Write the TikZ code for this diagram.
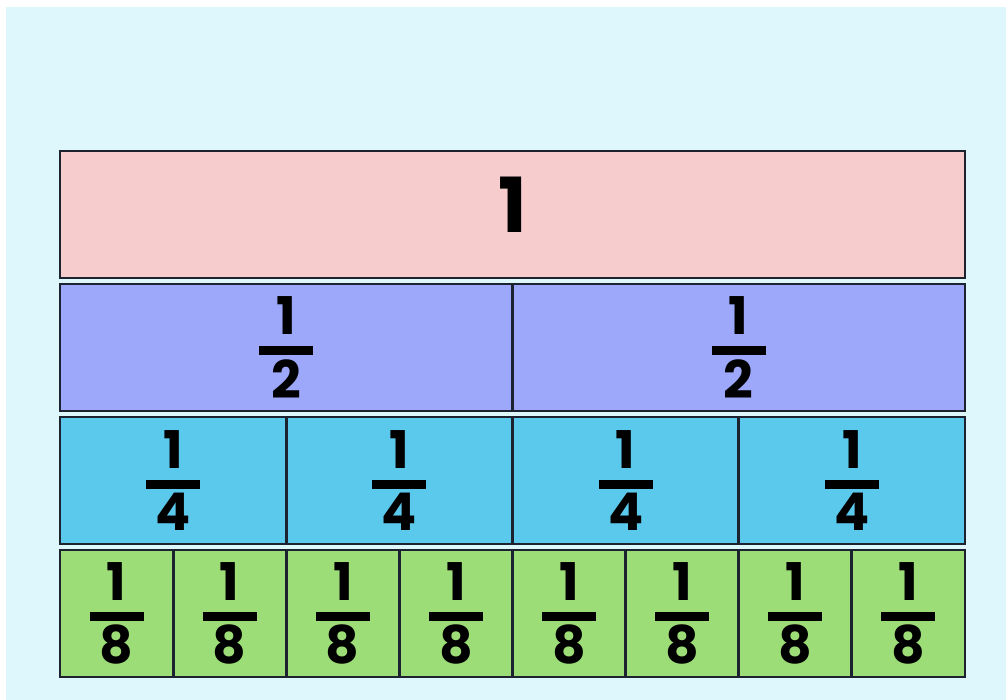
\documentclass[tikz,border=0pt]{standalone}
\usepackage{fontspec}
\setmainfont{Poppins}
\usetikzlibrary{positioning}

\definecolor{bgcyan}{HTML}{DDF7FD}
\definecolor{edge}{HTML}{1C2230}
\definecolor{wholecol}{HTML}{F7CCCD}
\definecolor{halfcol}{HTML}{9DA8FB}
\definecolor{quartcol}{HTML}{5BC9EC}
\definecolor{eighthcol}{HTML}{9DDD78}

% stacked fraction: numerator, thick bar, denominator
\newcommand{\barfrac}[2]{\vbox{\offinterlineskip
  \hbox to 27pt{\hss#1\hss}\kern5.75pt
  \hrule height 4.5pt\kern2.25pt
  \hbox to 27pt{\hss#2\hss}}}

\begin{document}
\begin{tikzpicture}[
    x=0.5pt, y=-0.5pt,
    cell/.style={draw=edge, line width=1.4pt, minimum height=63.5pt, inner sep=0pt,
                 font=\bfseries\fontsize{26}{26}\selectfont},
    bignum/.style={inner sep=0pt, font=\bfseries\fontsize{38}{38}\selectfont},
]

\fill[white] (0,0) rectangle (1006,700);
\fill[bgcyan] (6,7) rectangle (1006,700);

% whole bar
\node[cell, fill=wholecol, minimum width=452.5pt] (whole) at (512.5,214.5) {};
\node[bignum] (wholetxt) at ([yshift=5pt]whole.center) {1};

% halves, quarters, eighths
\foreach \n/\r/\col/\yc in {2/1/halfcol/347.5, 4/2/quartcol/480.5, 8/3/eighthcol/613.5}
  \foreach \i in {1,...,\n}
    \node[cell, fill=\col, minimum width={905/\n*0.5pt}] (r\r-\i)
      at ({60+905/\n*(\i-0.5)},\yc) {\barfrac{1}{\n}};

\end{tikzpicture}
\end{document}
